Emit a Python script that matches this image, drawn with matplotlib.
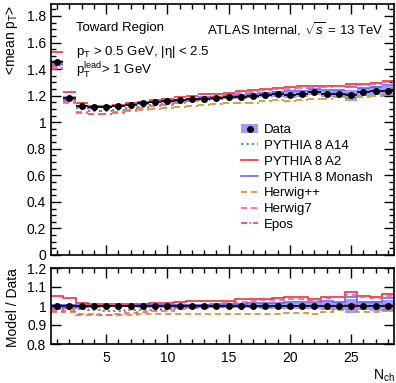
import numpy as np
import matplotlib
matplotlib.use("Agg")
import matplotlib.pyplot as plt
from matplotlib.lines import Line2D
from matplotlib.patches import Patch
from matplotlib.ticker import MultipleLocator, FuncFormatter

plt.rcParams['font.family'] = ['Liberation Sans', 'DejaVu Sans']
plt.rcParams['mathtext.fontset'] = 'custom'
plt.rcParams['mathtext.rm'] = 'Liberation Sans'
plt.rcParams['mathtext.it'] = 'Liberation Sans:italic'

# N_ch bins 1..28
nch = np.arange(1, 29)
data = np.array([1.45, 1.182, 1.122, 1.112, 1.114, 1.122, 1.132, 1.142, 1.152, 1.158,
                 1.165, 1.172, 1.178, 1.182, 1.19, 1.193, 1.195, 1.205, 1.212, 1.205,
                 1.212, 1.226, 1.214, 1.216, 1.203, 1.227, 1.238, 1.232])
# relative systematic uncertainty of the data
rel_unc = np.array([0.012, 0.01, 0.008, 0.007, 0.007, 0.007, 0.007, 0.008, 0.008, 0.009,
                    0.009, 0.01, 0.011, 0.011, 0.012, 0.013, 0.013, 0.015, 0.016, 0.017,
                    0.018, 0.018, 0.02, 0.022, 0.035, 0.022, 0.025, 0.032])

# Model / Data ratios
r_a14 = np.array([0.985, 0.986, 0.984, 0.978, 0.976, 0.976, 0.977, 0.978, 0.98, 0.985,
                  0.988, 0.99, 0.992, 0.993, 0.995, 0.995, 0.997, 0.997, 0.998, 0.998,
                  1.0, 1.0, 1.0, 1.0, 1.005, 1.0, 1.0, 1.005])
r_a2 = np.array([1.052, 1.041, 1.017, 1.009, 1.009, 1.009, 1.01, 1.012, 1.015, 1.017,
                 1.02, 1.024, 1.026, 1.026, 1.028, 1.037, 1.038, 1.038, 1.04, 1.047,
                 1.047, 1.038, 1.047, 1.049, 1.073, 1.052, 1.047, 1.062])
r_monash = np.array([1.003, 1.003, 1.0, 1.0, 1.0, 1.0, 1.002, 1.003, 1.003, 1.005,
                     1.005, 1.005, 1.007, 1.008, 1.01, 1.012, 1.015, 1.015, 1.015, 1.022,
                     1.022, 1.022, 1.025, 1.022, 1.05, 1.023, 1.02, 1.04])
r_herwigpp = np.array([0.972, 0.966, 0.958, 0.956, 0.955, 0.955, 0.955, 0.956, 0.957, 0.958,
                       0.958, 0.959, 0.96, 0.96, 0.96, 0.96, 0.96, 0.96, 0.96, 0.961,
                       0.961, 0.96, 0.969, 0.981, 0.985, 0.97, 0.97, 0.98])
r_herwig7 = np.array([0.966, 0.976, 0.951, 0.952, 0.955, 0.96, 0.965, 0.968, 0.972, 0.976,
                      0.982, 0.99, 1.0, 1.008, 1.015, 1.022, 1.028, 1.03, 1.032, 1.035,
                      1.038, 1.032, 1.04, 1.045, 1.06, 1.045, 1.04, 1.055])
r_epos = np.array([0.983, 0.99, 0.995, 0.997, 0.998, 0.998, 0.998, 1.0, 1.0, 1.0,
                   1.0, 1.0, 1.0, 1.0, 1.0, 1.0, 1.0, 1.0, 1.0, 1.0,
                   1.0, 1.0, 1.0, 1.0, 1.005, 1.0, 1.0, 1.005])

models = [
    ('PYTHIA 8 A14', r_a14, '#2a8a2a', (0, (1.5, 2))),
    ('PYTHIA 8 A2', r_a2, '#e8202a', '-'),
    ('PYTHIA 8 Monash', r_monash, '#5a5aff', '-'),
    ('Herwig++', r_herwigpp, '#c8870e', (0, (4, 2.5))),
    ('Herwig7', r_herwig7, '#ff4d80', (0, (4, 2.5))),
    ('Epos', r_epos, '#ee10ee', (0, (4, 1.5, 1, 1.5))),
]
band_col = '#8c8cff'

W, H = 396, 383
fig = plt.figure(figsize=(W / 100, H / 100), dpi=100)
ax = fig.add_axes([51 / W, 1 - 255 / H, 343 / W, 251 / H])
rax = fig.add_axes([51 / W, 1 - 344 / H, 343 / W, 76 / H])

edges = np.append(nch - 0.5, nch[-1] + 0.5)

# main panel
err = data * rel_unc
ax.bar(nch, 2 * err, bottom=data - err, width=1, color=band_col, alpha=0.85, lw=0, zorder=1)
for label, r, col, ls in models:
    ax.hlines(r * data, nch - 0.5, nch + 0.5, colors=col, linestyles=ls, lw=1.1, zorder=2)
ax.errorbar(nch, data, xerr=0.5, fmt='o', color='k', ms=4, lw=1.1, capsize=0, zorder=3)

# ratio panel
rax.bar(nch, 2 * rel_unc, bottom=1 - rel_unc, width=1, color=band_col, alpha=0.85, lw=0, zorder=1)
for label, r, col, ls in models:
    rax.stairs(r, edges, color=col, linestyle=ls, lw=1.1, baseline=None, zorder=2)
rax.errorbar(nch, np.ones_like(data), xerr=0.5, fmt='o', color='k', ms=4, lw=1.1,
             capsize=0, zorder=3)

fmt = FuncFormatter(lambda v, p: '%g' % round(v, 3))
for a in (ax, rax):
    a.set_xlim(0.5, 28.5)
    a.xaxis.set_major_locator(MultipleLocator(5))
    a.xaxis.set_minor_locator(MultipleLocator(1))
    a.tick_params(which='both', direction='in', top=True, right=True, labelsize=10, width=1)
    a.tick_params(which='major', length=7)
    a.tick_params(which='minor', length=3.5)
    for s in a.spines.values():
        s.set_linewidth(1.2)
    a.yaxis.set_major_formatter(fmt)

ax.set_ylim(0, 1.89)
ax.yaxis.set_major_locator(MultipleLocator(0.2))
ax.yaxis.set_minor_locator(MultipleLocator(0.05))
ax.tick_params(labelbottom=False)

rax.set_ylim(0.8, 1.2)
rax.yaxis.set_major_locator(MultipleLocator(0.1))
rax.yaxis.set_minor_locator(MultipleLocator(0.1))
rax.tick_params(axis='x', pad=5)

fs = 9.5
ax.text(0.073, 0.904, 'Toward Region', transform=ax.transAxes, fontsize=fs, va='center')
ax.text(0.073, 0.81, 'p$_\\mathrm{T}$ > 0.5 GeV, |η| < 2.5', transform=ax.transAxes,
        fontsize=fs, va='center')
ax.text(0.073, 0.735, 'p$_\\mathrm{T}^\\mathrm{lead}$> 1 GeV', transform=ax.transAxes,
        fontsize=fs, va='center')
ax.text(0.971, 0.9, 'ATLAS Internal, $\\sqrt{s}$ = 13 TeV', transform=ax.transAxes,
        fontsize=fs, va='center', ha='right')

handles = [(Patch(facecolor=band_col, alpha=0.85, lw=0),
            Line2D([], [], marker='o', color='k', ms=4, ls='none'))]
labels = ['Data']
for label, r, col, ls in models:
    handles.append(Line2D([], [], color=col, ls=ls, lw=1.1))
    labels.append(label)
fig.legend(handles, labels, loc='upper left', bbox_to_anchor=(241 / W, 1 - 124 / H),
           frameon=False, fontsize=fs, handlelength=1.3, handletextpad=0.45,
           labelspacing=0.27, borderpad=0, borderaxespad=0)

fig.text(12 / W, 1 - 5 / H, '<mean p$_\\mathrm{T}$>', rotation=90, ha='center', va='top',
         fontsize=10)
fig.text(13 / W, 1 - 268 / H, 'Model / Data', rotation=90, ha='center', va='top', fontsize=10)
fig.text(395 / W, 1 - 376 / H, 'N$_\\mathrm{ch}$', ha='right', va='center', fontsize=10)

fig.savefig('out.png', dpi=100)
